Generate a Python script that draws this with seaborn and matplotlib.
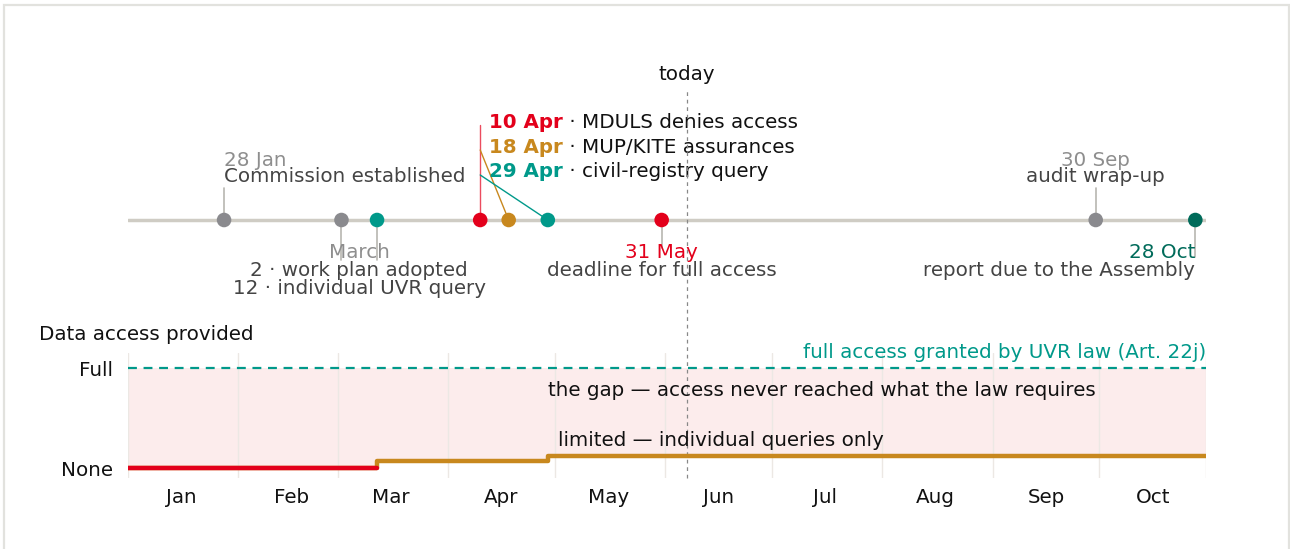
import pandas as pd
import numpy as np
import seaborn as sns
import matplotlib.pyplot as plt
import matplotlib.dates as mdates
from matplotlib.patches import Rectangle

# Daten
event_names = ['Commission established', 'work plan adopted', 'individual UVR query',
               'MDULS denies access', 'MUP/KITE assurances', 'civil-registry query',
               'deadline for full access', 'audit wrap-up', 'report due to the Assembly']
event_dates = ['2025-01-28', '2025-03-02', '2025-03-12', '2025-04-10', '2025-04-18',
               '2025-04-29', '2025-05-31', '2025-09-30', '2025-10-28']
event_colors = ['#8a8a8e', '#8a8a8e', '#00998a', '#e3001b', '#c8881e',
                '#00998a', '#e3001b', '#8a8a8e', '#006b5a']

access_dates = ['2025-01-01', '2025-03-12', '2025-04-29', '2025-10-31']
access_level = [0.0, 0.07, 0.12, 0.12]
none_until = '2025-03-12'

today = '2025-06-07'
start, end = pd.Timestamp('2025-01-01'), pd.Timestamp('2025-10-31')

RED, ORANGE, TEAL, DTEAL = '#e3001b', '#c8881e', '#00998a', '#006b5a'
GREY_DATE, DARK = '#8e8e8e', '#444444'
FS = 14.3

sns.set_theme(style='white')
plt.rcParams['font.family'] = ['DejaVu Sans']

W, H = 1290, 549
fig = plt.figure(figsize=(W / 100, H / 100), dpi=100)
fig.add_artist(Rectangle((4 / W, -0.1), (1289 - 4) / W, 1.1 - 5 / H, transform=fig.transFigure,
                         fill=False, edgecolor='#e2e2de', linewidth=1.6))

x0, x1 = 128 / W, 1206 / W
# Zeitstrahl oben (y in Pixel-Einheiten relativ zum Strahl)
ax_t = fig.add_axes([x0, 1 - 310 / H, x1 - x0, 250 / H])
ax_t.set_xlim(start, end)
ax_t.set_ylim(-90, 160)
ax_t.axis('off')

ev = pd.DataFrame({'name': event_names, 'date': pd.to_datetime(event_dates),
                   'color': event_colors})
ev['y'] = 0.0

ax_t.axhline(0, color='#cfccc4', lw=2.5, zorder=1)
d = dict(zip(ev['name'], ev['date']))

# Stiele
def stem(name, y_end, color='#b8b6b0'):
    ax_t.plot([d[name], d[name]], [0, y_end], color=color, lw=1.2, zorder=1)

stem('Commission established', 32)
stem('work plan adopted', -40)
stem('individual UVR query', -40)
stem('deadline for full access', -28)
stem('audit wrap-up', 32)
stem('report due to the Assembly', -37)

# Führungslinien für April-Gruppe
anchor = d['MDULS denies access']
ax_t.plot([d['MDULS denies access'], anchor], [0, 95], color=RED, lw=1, alpha=0.7, zorder=1)
ax_t.plot([d['MUP/KITE assurances'], anchor], [0, 70], color=ORANGE, lw=1, zorder=1)
ax_t.plot([d['civil-registry query'], anchor], [0, 45], color=TEAL, lw=1, zorder=1)

sns.scatterplot(data=ev, x='date', y='y', hue='name', palette=dict(zip(ev['name'], ev['color'])),
                s=110, edgecolor='none', legend=False, ax=ax_t, zorder=3)

# Beschriftungen
ax_t.text(d['Commission established'], 60, '28 Jan', color=GREY_DATE, fontsize=FS, va='center')
ax_t.text(d['Commission established'], 43, 'Commission established', color=DARK, fontsize=FS, va='center')
mid_mar = pd.Timestamp('2025-03-07')
ax_t.text(mid_mar, -33, 'March', color=GREY_DATE, fontsize=FS, va='center', ha='center')
ax_t.text(mid_mar, -50, '2 · work plan adopted', color=DARK, fontsize=FS, va='center', ha='center')
ax_t.text(mid_mar, -69, '12 · individual UVR query', color=DARK, fontsize=FS, va='center', ha='center')

apr_rows = [('10 Apr', 'MDULS denies access', RED, 92),
            ('18 Apr', 'MUP/KITE assurances', ORANGE, 67),
            ('29 Apr', 'civil-registry query', TEAL, 43)]
tx = anchor + pd.Timedelta(days=2.5)
for date_lbl, desc, col, y in apr_rows:
    t = ax_t.text(tx, y, date_lbl, color=col, fontsize=FS, fontweight='bold', va='baseline')
    ax_t.annotate(' · ' + desc, xy=(1, 0), xycoords=t, va='bottom', ha='left',
                  color='#111111', fontsize=FS)

ax_t.text(d['deadline for full access'], -33, '31 May', color=RED, fontsize=FS, va='center', ha='center')
ax_t.text(d['deadline for full access'], -50, 'deadline for full access', color=DARK, fontsize=FS,
          va='center', ha='center')
ax_t.text(d['audit wrap-up'], 60, '30 Sep', color=GREY_DATE, fontsize=FS, va='center', ha='center')
ax_t.text(d['audit wrap-up'], 43, 'audit wrap-up', color=DARK, fontsize=FS, va='center', ha='center')
ax_t.text(d['report due to the Assembly'], -33, '28 Oct', color=DTEAL, fontsize=FS, va='center', ha='right')
ax_t.text(d['report due to the Assembly'], -50, 'report due to the Assembly', color=DARK, fontsize=FS,
          va='center', ha='right')
ax_t.text(pd.Timestamp(today), 145, 'today', color='#111111', fontsize=FS, va='center', ha='center')

# Stufendiagramm unten
ax = fig.add_axes([x0, 1 - 478 / H, x1 - x0, 125 / H])
acc = pd.DataFrame({'date': pd.to_datetime(access_dates), 'level': access_level})
ax.fill_between(acc['date'], acc['level'], 1, step='post', color='#fcecec', lw=0, zorder=0)
ax.axhline(1, color=TEAL, lw=1.6, ls=(0, (4, 3)), zorder=2)
sns.lineplot(data=acc, x='date', y='level', drawstyle='steps-post', color=ORANGE, lw=3.2, ax=ax, zorder=3)
red_part = acc[acc['date'] <= pd.Timestamp(none_until)].copy()
red_part['level'] = 0.0
sns.lineplot(data=red_part, x='date', y='level', color=RED, lw=3.2, ax=ax, zorder=4)

ax.set_xlim(start, end)
ax.set_ylim(-0.10, 1.15)
for s in ax.spines.values():
    s.set_visible(False)
ax.xaxis.set_major_locator(mdates.MonthLocator())
ax.xaxis.set_major_formatter(plt.NullFormatter())
ax.xaxis.set_minor_locator(mdates.MonthLocator(bymonthday=16))
ax.xaxis.set_minor_formatter(mdates.DateFormatter('%b'))
ax.tick_params(axis='x', which='both', length=0, pad=7, labelsize=FS, labelcolor='#111111')
ax.grid(axis='x', which='major', color='#ece8e4', lw=1)
ax.axvline(end, color='#ece8e4', lw=1, zorder=0)
ax.set_yticks([0, 1])
ax.set_yticklabels(['None', 'Full'])
ax.tick_params(axis='y', length=0, pad=11, labelsize=FS, labelcolor='#111111')
ax.set_xlabel('')
ax.set_ylabel('')

ax.text(end, 1.16, 'full access granted by UVR law (Art. 22j)', color=TEAL, fontsize=FS,
        ha='right', va='center')
ax.text(pd.Timestamp('2025-04-29'), 0.77, 'the gap — access never reached what the law requires',
        color='#111111', fontsize=FS, va='center')
ax.text(pd.Timestamp('2025-05-02'), 0.27, 'limited — individual queries only',
        color='#111111', fontsize=FS, va='center')
ax.axvline(pd.Timestamp(today), ymin=0, ymax=(478 - 88) / 125, clip_on=False,
           color='#888888', lw=0.9, ls=(0, (3, 3)), zorder=1)

fig.text(39 / W, 1 - 335 / H, 'Data access provided', fontsize=FS, va='center', color='#111111')

fig.savefig('out.png', dpi=100)
